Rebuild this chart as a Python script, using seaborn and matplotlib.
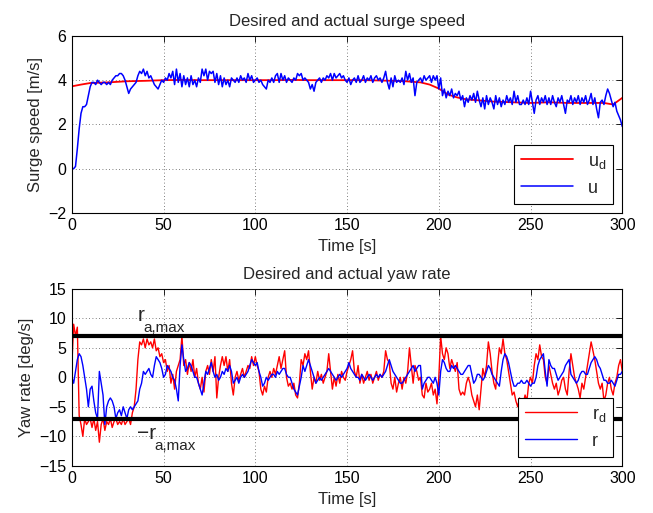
import numpy as np
import pandas as pd
import seaborn as sns
import matplotlib.pyplot as plt

# ---- surge speed data ----
# desired surge speed u_d, sampled coarsely (it is smooth)
t_ud = [0, 5, 10, 20, 30, 40, 50, 60, 70, 80, 90, 100, 110, 120, 130, 140, 150,
        160, 170, 180, 190, 195, 200, 205, 210, 215, 220, 230, 240, 250, 260,
        270, 280, 290, 295, 300]
u_d = [3.72, 3.8, 3.87, 3.9, 3.95, 3.97, 4.0, 4.01, 4.0, 4.0, 4.0, 4.0, 4.0,
       4.01, 4.0, 4.0, 4.0, 4.0, 3.98, 3.96, 3.9, 3.8, 3.62, 3.35, 3.22, 3.13,
       3.1, 3.03, 3.0, 2.97, 3.0, 2.97, 2.97, 2.97, 2.9, 3.2]

# actual surge speed u, one value per second (t = 0..300)
u = [0.0, 0.0, 0.1, 0.9, 1.8, 2.5, 2.8, 2.8, 2.9, 3.3,
     3.7, 3.9, 3.9, 3.8, 4.0, 3.9, 3.8, 3.9, 3.9, 3.8,
     3.9, 3.8, 4.0, 4.1, 4.2, 4.2, 4.3, 4.3, 4.2, 4.0,
     3.7, 3.4, 3.6, 3.7, 3.8, 3.9, 4.2, 4.4, 4.3, 4.5,
     4.2, 4.4, 4.1, 4.2, 4.0, 3.8, 3.7, 3.6, 3.8, 4.0,
     3.9, 4.1, 4.0, 4.3, 4.1, 4.4, 3.8, 4.5, 3.9, 4.3,
     3.7, 4.2, 3.8, 4.1, 3.7, 4.2, 3.8, 4.0, 3.7, 4.1,
     3.9, 4.5, 4.2, 4.5, 4.0, 4.4, 4.3, 4.4, 3.9, 4.3,
     3.8, 4.2, 3.7, 4.1, 3.8, 4.0, 3.7, 4.1, 4.0, 3.9,
     4.1, 3.9, 4.2, 4.0, 4.1, 3.9, 4.3, 4.0, 4.2, 3.9,
     4.0, 4.1, 3.9, 4.0, 3.8, 3.7, 3.6, 4.0, 3.9, 4.1,
     3.9, 4.2, 4.3, 3.9, 4.3, 4.0, 4.2, 3.9, 4.1, 4.0,
     3.9, 4.1, 4.0, 4.3, 4.2, 4.3, 4.0, 4.1, 4.0, 3.9,
     3.6, 3.8, 3.5, 3.9, 4.0, 4.1, 3.9, 4.1, 4.0, 4.2,
     4.1, 4.3, 4.0, 4.3, 4.1, 4.2, 4.3, 4.1, 4.2, 4.0,
     3.9, 4.1, 3.8, 4.0, 4.1, 3.9, 4.2, 3.9, 4.0, 4.2,
     3.9, 4.1, 4.0, 4.2, 3.9, 4.1, 4.2, 4.0, 4.1, 3.9,
     4.1, 4.4, 3.9, 3.6, 4.1, 3.7, 4.2, 3.9, 4.0, 3.9,
     4.1, 3.8, 4.4, 4.0, 4.3, 3.9, 4.1, 3.3, 3.9, 4.0,
     4.1, 3.9, 4.2, 4.0, 4.1, 4.2, 3.9, 4.2, 4.0, 4.2,
     3.6, 4.1, 3.3, 3.6, 3.2, 3.5, 3.3, 3.6, 3.2, 3.4,
     3.3, 3.5, 3.1, 3.3, 2.8, 3.2, 3.0, 3.3, 3.1, 3.4,
     3.0, 3.5, 3.1, 2.8, 3.2, 2.7, 3.3, 2.9, 3.2, 3.0,
     2.7, 3.3, 2.9, 3.2, 2.8, 3.1, 2.9, 3.3, 3.0, 3.2,
     2.9, 3.5, 3.0, 3.3, 2.9, 2.9, 3.1, 2.9, 3.2, 2.9,
     3.5, 3.0, 2.5, 3.1, 3.3, 2.9, 3.2, 3.0, 3.3, 2.9,
     3.2, 2.9, 3.3, 3.0, 2.8, 3.2, 3.0, 3.3, 2.9, 2.5,
     3.1, 3.0, 3.3, 2.9, 3.2, 3.0, 3.3, 2.9, 3.2, 3.0,
     3.3, 2.9, 3.1, 3.4, 2.9, 3.2, 2.7, 2.3, 3.0, 3.1,
     2.9, 3.3, 3.6, 3.4, 3.1, 2.8, 3.0, 2.6, 2.4, 2.2,
     1.9]

# ---- yaw rate data, one value per second ----
r_d = [2, 9, 7, 8.5, -6.5, -8, -10, -7, -8, -7.5,
       -7, -8.5, -7, -9, -7.5, -11, -8, -7, -9, -7.5,
       -8, -7, -8.5, -7.5, -7, -8, -7.5, -8, -7, -8,
       -7.5, -7, -8, -6, -5, -2, 3, 6, 5.5, 6.5,
       5, 6.5, 5.5, 6, 5, 6.5, 4.5, 5, 3.5, 4,
       2.5, 3, 1, 2, -1, 0.5, -2, 1, 2, 3,
       7, 2, 3, 0.5, 2.5, 1, 3, 0, 1.5, -1,
       -2, 0, -2.5, 1, 2, 0.5, 3, 1, 3.5, -3.5,
       0, 2, 3.5, 2, 3.5, 1, 3, -1, -3, 0,
       1, -0.5, 0.5, 1.5, 0, 1, 2, 1.5, 3.5, 2,
       3.5, 2, 1, -2, -3, -1.5, -2.5, 0, 1, 0,
       1.5, 0.5, 2, 3.5, 1.5, 3, 4.5, 0, -1.5, -1,
       -2, -1, -3, -3.5, -1, 3, 2, 4, 3, 4.5,
       1, -2, 0, -1, 1, -0.5, 0.5, -1, 0, 1,
       4, 1, -2, 0, -1.5, 0.5, -1, 1, 0, -0.5,
       1, 2, 3, 4.5, 1, 0, 2, -1, 0.5, -1,
       0, 1, -0.5, 0.5, -1, 0, 1, -0.5, 0.5, 0,
       1, 4.5, 3, 2.5, -1, -2, 0, -2.5, -1, 0,
       -2, 0, -1, 1, 5, 2, -1, 2, 1, -0.5,
       0, -3, -3.5, -1, -2.5, -2, -1, -3, -2, -4.5,
       0, 7, 4, 3, 5, 4, 1.5, 3, 2, 1,
       2.5, -2, -3, -2.5, -3, -1, 0, -1, -3, -4,
       -5, -3, -5.5, -2, 1.5, 0, 2, 6, 4, 1,
       -1, -2, 2, 5, 4, 6.5, 4, 3, 1, -1,
       -3, -2.5, -4, -5, -3.5, -6, -4.5, -3, -4, -1,
       0, -1, 2, 4, 3, 5.5, 3.5, 3, 0, -1,
       2, 0.5, -1, -2, -1, -3, -2, -0.5, 0, -2,
       -3, 1, 4, 2, 0, -1, -2, -3.5, -1, -2,
       0, 2, 4, 6, 4.5, 3, 1, -1, -2, -1,
       -4, -3, -1, 0, -2, -3, -1, 0, 2, 3,
       1]

r = [0, -1, 1, 3, 4, 3.5, 2, 0, -2, -5,
     -2, -1.5, -4, -6, -7, 1, -1, -3, -8, -5,
     -4, -3.5, -4, -5, -7, -6, -5.5, -6.5, -5, -6,
     -7, -5.5, -5, -5.5, -5, -4.5, -4, -2, -1, 1,
     0.5, 1, 1.5, 0.5, 0, 2, 3.5, 3, 2.5, 1.5,
     0, 0.5, 2, 1.5, 1, 0, -0.5, -2, -4, 2,
     5.5, 3, 1, 1.5, 2.5, 2, 1, 0, 0, -1,
     -2, -3, -1, 1, 0.5, 1.5, 2.5, 1, 0, 0.5,
     -0.5, 0, 1, 0.5, 1.5, 1, 2, 1, -1, -0.5,
     0, -1, 0, 0.5, 0, 0.5, 1, 2, 3, 2.5,
     2, 2.5, 1, 0, -1.5, -1, 0, -0.5, 0, 0.5,
     0.5, 0, 1, 0.5, 1, 1.5, 1.5, 0.5, 0, 0,
     -1, -2, -2.5, -3, -1.5, 0, 2, 1, 2, 3,
     2, 1, 0, -1, -0.5, 0, -0.5, 0, 0.5, 1,
     1.5, 1, 0.5, 0, -0.5, 0, 0.5, 0, 0.5, 1,
     1.5, 2.5, 1.5, 1, 0.5, 0, 0, -0.5, 0.5, 0,
     -0.5, 0, 0.5, 0, -0.5, 0, 0.5, 0, 0.5, 0,
     0.5, 1, 2, 3, 2, 1, 0.5, 0, -0.5, -1,
     -1, -0.5, 0, 0.5, 1, 1.5, 2, 1, 1.5, 2,
     2, -2, -1, -0.5, 0, 0, -0.5, -1, 0, -1,
     -3, 1, 3, 2.5, 1.5, 1, 1, 2, 1.5, 2,
     1.5, 1, 0.5, 0.5, 1, 1.5, 2, 2, 0.5, -1,
     -0.5, 0.5, 0.5, 0, -0.5, 0, 1, 2, 1.5, 0.5,
     0, -0.5, -1, -1.5, 1, 3, 4, 3.5, 2.5, 1,
     -0.5, -1.5, -1.5, -1, -1, -0.5, -1, -1, -0.5, -1,
     -1.5, -1, -1, 0, 2, 3, 3.5, 4, 1, -1.5,
     3, 2, 1.5, 1.5, 0.5, -0.5, 0, 0.5, 1, 2,
     2.5, 3, 0.5, 0, -0.5, -1, -0.5, 0.5, 1, 1,
     0.5, 0.5, 1.5, 2.5, 3, 3.5, 3, 2, 1.5, 0.5,
     -0.5, -0.5, -1, -1, -0.5, -1, -1.5, -0.5, 0.5, 0.5,
     1]

r_max = 7  # yaw rate saturation limit [deg/s]

time = np.arange(len(u))
df_u = pd.DataFrame({'t': time, 'u': u})
df_ud = pd.DataFrame({'t': t_ud, 'u_d': u_d})
df_r = pd.DataFrame({'t': time, 'r_d': r_d, 'r': r})

sns.set_theme(style='white')
plt.rcParams['font.family'] = ['Liberation Sans', 'DejaVu Sans']
plt.rcParams['mathtext.fontset'] = 'custom'
plt.rcParams['mathtext.rm'] = 'Liberation Sans'

fig = plt.figure(figsize=(6.53, 5.13), dpi=100)
ax1 = fig.add_axes([0.110, 0.585, 0.843, 0.345])
ax2 = fig.add_axes([0.110, 0.092, 0.843, 0.345])


def matlab_style(ax):
    # boxed axes, inward ticks on all sides, dotted grid
    for s in ax.spines.values():
        s.set_color('black')
        s.set_linewidth(0.8)
    ax.tick_params(direction='in', top=True, right=True, length=4,
                   width=0.6, labelsize=11.5, colors='black', pad=4)
    ax.grid(True, linestyle=(0, (1, 3)), color='#555555', linewidth=0.6)
    ax.set_axisbelow(True)


# top: surge speed
sns.lineplot(data=df_ud, x='t', y='u_d', color='red', lw=1.3, ax=ax1,
             label=r'u$_\mathregular{d}$')
sns.lineplot(data=df_u, x='t', y='u', color='blue', lw=1.1, ax=ax1,
             label='u')
ax1.set_xlim(0, 300)
ax1.set_ylim(-2, 6)
ax1.set_xticks(range(0, 301, 50))
ax1.set_yticks(range(-2, 7, 2))
ax1.set_title('Desired and actual surge speed', fontsize=12, pad=7)
ax1.set_xlabel('Time [s]', fontsize=12, labelpad=4)
ax1.set_ylabel('Surge speed [m/s]', fontsize=12)
matlab_style(ax1)
leg1 = ax1.legend(loc='lower right', fancybox=False, framealpha=1,
                  edgecolor='black', fontsize=13, handlelength=2.9,
                  borderaxespad=0.5)
leg1.get_frame().set_linewidth(0.8)

# bottom: yaw rate
sns.lineplot(data=df_r, x='t', y='r_d', color='red', lw=1.0, ax=ax2,
             label=r'r$_\mathregular{d}$')
sns.lineplot(data=df_r, x='t', y='r', color='blue', lw=1.0, ax=ax2,
             label='r')
ax2.axhline(r_max, color='black', lw=3)
ax2.axhline(-r_max, color='black', lw=3)
# limit labels: big letter with a low subscript, as in the reference
ax2.text(36, 10.4, 'r', fontsize=15, va='center', ha='left')
ax2.text(38.8, 8.4, 'a,max', fontsize=11, va='center', ha='left')
ax2.text(35.5, -9.6, '\u2212r', fontsize=15, va='center', ha='left')
ax2.text(45, -11.6, 'a,max', fontsize=11, va='center', ha='left')
ax2.set_xlim(0, 300)
ax2.set_ylim(-15, 15)
ax2.set_xticks(range(0, 301, 50))
ax2.set_yticks(range(-15, 16, 5))
ax2.set_title('Desired and actual yaw rate', fontsize=12, pad=7)
ax2.set_xlabel('Time [s]', fontsize=12, labelpad=4)
ax2.set_ylabel('Yaw rate [deg/s]', fontsize=12)
matlab_style(ax2)
leg2 = ax2.legend(loc='lower right', fancybox=False, framealpha=1,
                  edgecolor='black', fontsize=13, handlelength=2.9,
                  borderaxespad=0.5)
leg2.get_frame().set_linewidth(0.8)

fig.savefig('out.png', dpi=100)
